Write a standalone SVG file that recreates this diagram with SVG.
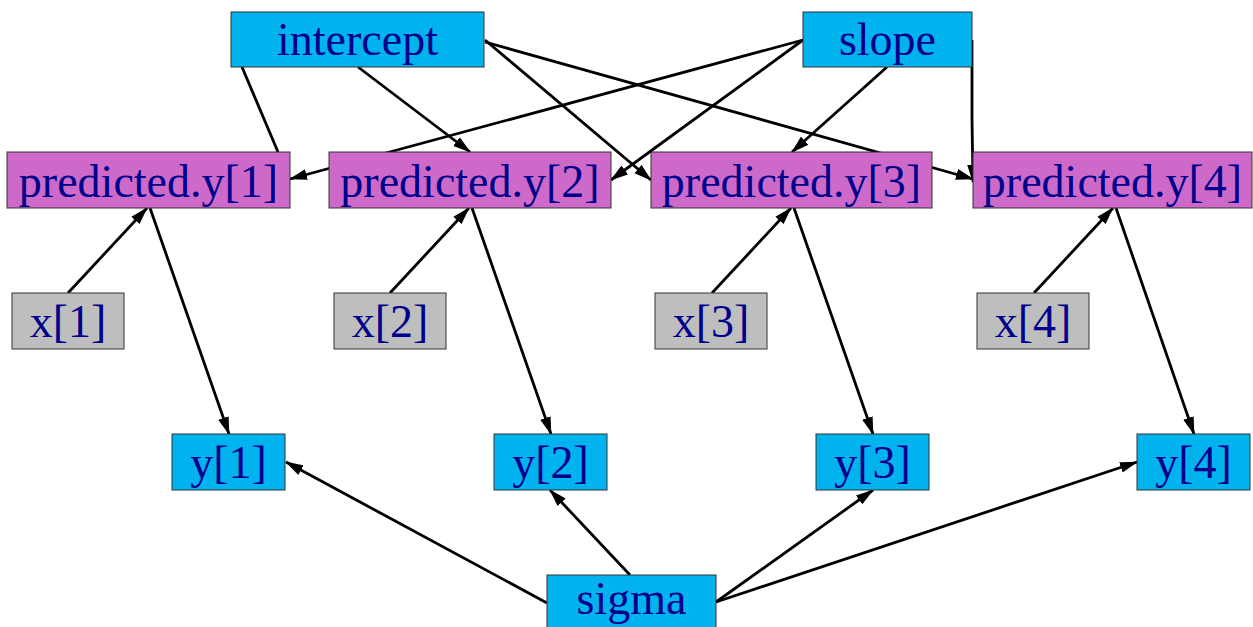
<svg xmlns="http://www.w3.org/2000/svg" width="1253" height="627" viewBox="0 0 1253 627">
<style>
.e{stroke:#000;stroke-width:2.8;fill:none}
.a{marker-end:url(#ah)}
.b{stroke:#333;stroke-width:1}
.cy{fill:#00B2EE}
.mg{fill:#CD69C9}
.gr{fill:#BEBEBE}
text{font-family:"Liberation Serif","Times New Roman",serif;font-size:46px;fill:#00008B;text-anchor:middle}
</style>
<defs>
<marker id="ah" markerUnits="userSpaceOnUse" viewBox="0 0 18 12" markerWidth="18" markerHeight="12" refX="17" refY="6" orient="auto">
<path d="M0,0.5 L18,6 L0,11.5 z" fill="#000"/>
</marker>
</defs>
<rect width="1253" height="627" fill="#fff"/>
<g id="connectors">
<line class="e" x1="242" y1="67" x2="278" y2="152"/>
<line class="e a" x1="358" y1="67" x2="470" y2="152"/>
<line class="e a" x1="485" y1="40" x2="651" y2="180"/>
<line class="e a" x1="485" y1="42" x2="973" y2="179"/>
<line class="e a" x1="803" y1="40" x2="290" y2="179"/>
<line class="e a" x1="803" y1="40" x2="611" y2="180"/>
<line class="e a" x1="887" y1="67" x2="792" y2="152"/>
<polyline class="e a" points="972,40 972,120 973,182"/>
<line class="e a" x1="68" y1="293" x2="147" y2="208"/>
<line class="e a" x1="390" y1="293" x2="469" y2="208"/>
<line class="e a" x1="712" y1="293" x2="791" y2="208"/>
<line class="e a" x1="1034" y1="293" x2="1113" y2="208"/>
<line class="e a" x1="150" y1="208" x2="229" y2="434"/>
<line class="e a" x1="472" y1="208" x2="551" y2="434"/>
<line class="e a" x1="794" y1="208" x2="873" y2="434"/>
<line class="e a" x1="1116" y1="208" x2="1194" y2="434"/>
<line class="e a" x1="547" y1="603" x2="286" y2="462"/>
<line class="e a" x1="630" y1="575" x2="550" y2="490"/>
<line class="e a" x1="716" y1="602" x2="873" y2="490"/>
<line class="e a" x1="716" y1="602" x2="1137" y2="462"/>
</g>
<g id="intercept"><rect class="b cy" x="231" y="12" width="253" height="55"/><text x="357.5" y="55">intercept</text></g>
<g id="slope"><rect class="b cy" x="803" y="12" width="169" height="55"/><text x="887.5" y="55">slope</text></g>
<g id="pred1"><rect class="b mg" x="7" y="152" width="283" height="56"/><text x="148.5" y="197">predicted.y[1]</text></g>
<g id="pred2"><rect class="b mg" x="329" y="152" width="282" height="56"/><text x="470" y="197">predicted.y[2]</text></g>
<g id="pred3"><rect class="b mg" x="651" y="152" width="281" height="56"/><text x="791.5" y="197">predicted.y[3]</text></g>
<g id="pred4"><rect class="b mg" x="973" y="152" width="279" height="56"/><text x="1112.5" y="197">predicted.y[4]</text></g>
<g id="x1"><rect class="b gr" x="12" y="293" width="112" height="56"/><text x="68" y="337">x[1]</text></g>
<g id="x2"><rect class="b gr" x="334" y="293" width="112" height="56"/><text x="390" y="337">x[2]</text></g>
<g id="x3"><rect class="b gr" x="655" y="293" width="112" height="56"/><text x="711" y="337">x[3]</text></g>
<g id="x4"><rect class="b gr" x="977" y="293" width="112" height="56"/><text x="1033" y="337">x[4]</text></g>
<g id="y1"><rect class="b cy" x="172" y="434" width="113" height="56"/><text x="228.5" y="478">y[1]</text></g>
<g id="y2"><rect class="b cy" x="494" y="434" width="113" height="56"/><text x="550.5" y="478">y[2]</text></g>
<g id="y3"><rect class="b cy" x="816" y="434" width="113" height="56"/><text x="872.5" y="478">y[3]</text></g>
<g id="y4"><rect class="b cy" x="1137" y="434" width="113" height="56"/><text x="1193.5" y="478">y[4]</text></g>
<g id="sigma"><rect class="b cy" x="547" y="575" width="169" height="56"/><text x="631.5" y="614">sigma</text></g>
</svg>
